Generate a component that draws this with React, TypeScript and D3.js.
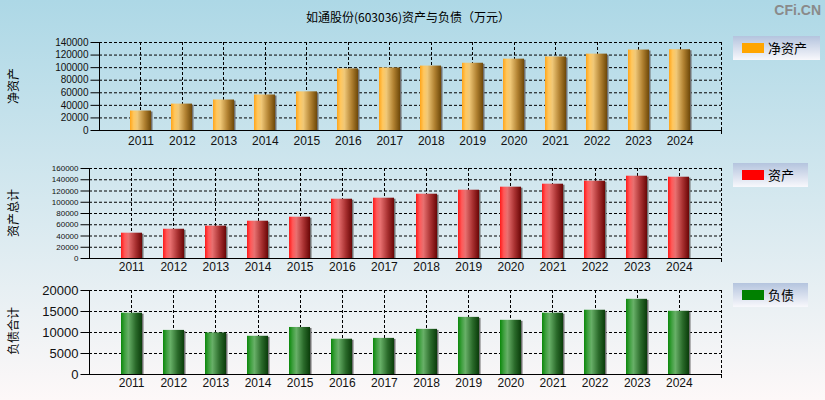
import React, { useEffect, useRef } from 'react';
import * as d3 from 'd3';

const years = [2011, 2012, 2013, 2014, 2015, 2016, 2017, 2018, 2019, 2020, 2021, 2022, 2023, 2024];
const netAssets = [31000, 42000, 48500, 56500, 61500, 98000, 99500, 102500, 107000, 113500, 117000, 121500, 128000, 128500];
const totalAssets = [45000, 52000, 57500, 66300, 73400, 105400, 107200, 114300, 121400, 126800, 132100, 137400, 146300, 144500];
const liabilities = [14600, 10500, 9900, 9100, 11200, 8400, 8600, 10750, 13600, 12900, 14600, 15300, 17900, 15050];

const netTicks = [0, 20000, 40000, 60000, 80000, 100000, 120000, 140000];
const assetTicks = [0, 20000, 40000, 60000, 80000, 100000, 120000, 140000, 160000];
const debtTicks = [0, 5000, 10000, 15000, 20000];

const title = '如通股份(603036)资产与负债（万元）';

interface Panel {
  id: string;
  values: number[];
  ticks: number[];
  left: number;
  top: number;
  bottom: number;
  tickFont: number;
  axisLabel: string;
  labelY: number;
  legend: string;
  legendTop: number;
  legendW: number;
  swatch: string;
  stops: string[];
}

const App: React.FC = () => {
  const ref = useRef<SVGSVGElement>(null);

  useEffect(() => {
    const svg = d3.select(ref.current);
    svg.selectAll('*').remove();
    const W = 825;
    const H = 400;
    const right = 721;
    const cjk = '"Noto Sans CJK SC", sans-serif';
    const latin = '"Liberation Sans", Arial, sans-serif';

    const defs = svg.append('defs');
    const bg = defs.append('linearGradient').attr('id', 'bg').attr('x1', 0).attr('y1', 0).attr('x2', 0).attr('y2', 1);
    bg.append('stop').attr('offset', '0%').attr('stop-color', '#add8e6');
    bg.append('stop').attr('offset', '100%').attr('stop-color', '#fdf8f8');
    const lg = defs.append('linearGradient').attr('id', 'lg').attr('x1', 0).attr('y1', 0).attr('x2', 0).attr('y2', 1);
    lg.append('stop').attr('offset', '0%').attr('stop-color', '#b4c4de');
    lg.append('stop').attr('offset', '100%').attr('stop-color', '#f8f8fc');

    svg.append('rect').attr('width', W).attr('height', H).attr('fill', 'url(#bg)');

    svg.append('text').attr('x', 408).attr('y', 22).attr('text-anchor', 'middle')
      .attr('font-family', cjk).attr('font-size', 12).attr('fill', '#000').text(title);
    svg.append('text').attr('x', 821).attr('y', 15).attr('text-anchor', 'end')
      .attr('font-family', latin).attr('font-weight', 'bold').attr('font-size', 14)
      .attr('fill', '#8a8a8a').text('CFi.CN');

    const panels: Panel[] = [
      { id: 'net', values: netAssets, ticks: netTicks, left: 99, top: 42, bottom: 130, tickFont: 10,
        axisLabel: '净资产', labelY: 86, legend: '净资产', legendTop: 36, legendW: 87, swatch: '#ffa500',
        stops: ['#ffa51a', '#ffc860', '#f0c878', '#b08030', '#6e4808'] },
      { id: 'ast', values: totalAssets, ticks: assetTicks, left: 89, top: 168, bottom: 258, tickFont: 8,
        axisLabel: '资产总计', labelY: 213, legend: '资产', legendTop: 163, legendW: 75, swatch: '#ff0000',
        stops: ['#ff1a1a', '#ff5a5a', '#e87070', '#a83030', '#6a0606'] },
      { id: 'dbt', values: liabilities, ticks: debtTicks, left: 89, top: 290, bottom: 374, tickFont: 13,
        axisLabel: '负债合计', labelY: 331, legend: '负债', legendTop: 283, legendW: 75, swatch: '#008000',
        stops: ['#0a880a', '#40a040', '#68b068', '#2a6a2a', '#0a3c0a'] },
    ];

    panels.forEach((p) => {
      const grad = defs.append('linearGradient').attr('id', `g-${p.id}`).attr('x1', 0).attr('y1', 0).attr('x2', 1).attr('y2', 0);
      p.stops.forEach((c, i) => grad.append('stop').attr('offset', `${[0, 18, 35, 70, 100][i]}%`).attr('stop-color', c));

      const x = d3.scaleLinear().domain([2010, 2025]).range([p.left, right]);
      const maxV = p.ticks[p.ticks.length - 1];
      const y = d3.scaleLinear().domain([0, maxV]).range([p.bottom, p.top]);
      const g = svg.append('g');

      // grid
      p.ticks.filter((t) => t > 0).forEach((t) => {
        g.append('line').attr('x1', p.left).attr('x2', right).attr('y1', y(t) + 0.5).attr('y2', y(t) + 0.5)
          .attr('stroke', '#000').attr('stroke-dasharray', '3,2');
      });
      years.concat([2025]).forEach((yr) => {
        g.append('line').attr('x1', Math.round(x(yr)) + 0.5).attr('x2', Math.round(x(yr)) + 0.5)
          .attr('y1', p.top).attr('y2', p.bottom).attr('stroke', '#000').attr('stroke-dasharray', '3,2');
      });

      // bars
      const bw = 21;
      g.selectAll('rect.shadow').data(p.values).enter().append('rect')
        .attr('x', (_, i) => Math.round(x(years[i]) - bw / 2) + 1.5)
        .attr('y', (d) => y(d) + 1)
        .attr('width', bw)
        .attr('height', (d) => p.bottom - y(d) - 1)
        .attr('fill', '#707070');
      g.selectAll('rect.bar').data(p.values).enter().append('rect')
        .attr('x', (_, i) => Math.round(x(years[i]) - bw / 2))
        .attr('y', (d) => y(d))
        .attr('width', bw)
        .attr('height', (d) => p.bottom - y(d))
        .attr('fill', `url(#g-${p.id})`);

      // axes
      const ya = g.append('g').attr('transform', `translate(${p.left + 0.5},0)`)
        .call(d3.axisLeft(y).tickValues(p.ticks).tickSize(9).tickPadding(2).tickFormat((d) => String(d)));
      ya.select('.domain').remove();
      ya.selectAll('line').attr('stroke', '#000');
      ya.selectAll('text').attr('font-family', latin).attr('font-size', p.tickFont).attr('fill', '#111')
        .attr('textLength', p.id === 'ast' ? null : null);
      g.append('line').attr('x1', p.left + 0.5).attr('x2', p.left + 0.5).attr('y1', p.top).attr('y2', p.bottom)
        .attr('stroke', '#000');
      g.append('line').attr('x1', p.left).attr('x2', right + 1).attr('y1', p.bottom + 0.5).attr('y2', p.bottom + 0.5)
        .attr('stroke', '#000');
      g.append('line').attr('x1', right + 0.5).attr('x2', right + 0.5).attr('y1', p.bottom).attr('y2', p.bottom + 4)
        .attr('stroke', '#000');

      const xa = g.append('g').attr('transform', `translate(0,${p.bottom})`)
        .call(d3.axisBottom(x).tickValues(years).tickSize(0).tickPadding(p.id === 'net' ? 6 : 4).tickFormat((d) => String(d)));
      xa.select('.domain').remove();
      xa.selectAll('text').attr('font-family', latin).attr('font-size', 12).attr('fill', '#111');

      // axis title
      svg.append('text').attr('transform', `translate(18,${p.labelY}) rotate(-90)`).attr('text-anchor', 'middle')
        .attr('font-family', cjk).attr('font-size', 12).attr('fill', '#000').text(p.axisLabel);

      // legend
      svg.append('rect').attr('x', 733).attr('y', p.legendTop).attr('width', p.legendW).attr('height', 24)
        .attr('fill', 'url(#lg)');
      svg.append('rect').attr('x', 742).attr('y', p.legendTop + 7).attr('width', 22).attr('height', 10)
        .attr('fill', p.swatch);
      svg.append('text').attr('x', 768).attr('y', p.legendTop + 17).attr('font-family', cjk).attr('font-size', 13)
        .attr('fill', '#000').text(p.legend);
    });
  }, []);

  return <svg ref={ref} width={825} height={400} style={{ position: 'absolute', left: 0, top: 0 }} />;
};

export default App;
